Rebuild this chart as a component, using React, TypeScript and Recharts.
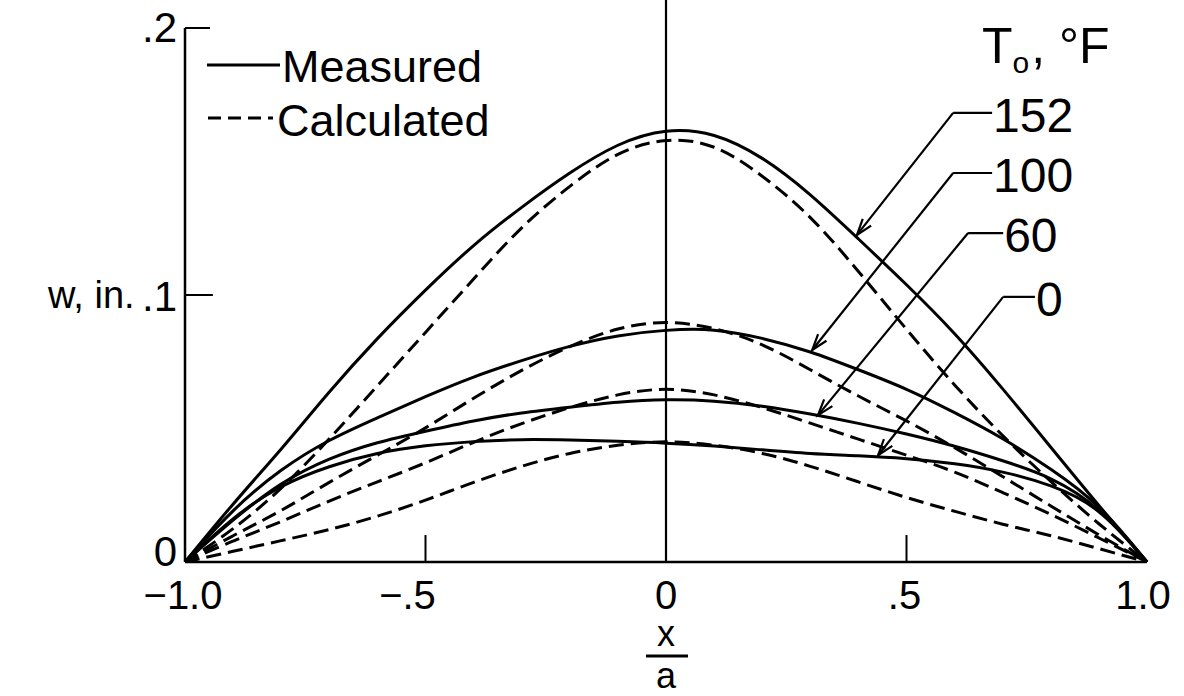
import React from 'react';
import { LineChart, Line, XAxis, YAxis, ReferenceLine } from 'recharts';

const FONT = "'Liberation Sans', Arial, sans-serif";
const INK = '#000';

// stations along the plate, x/a
const xOverA = [-1, -0.9, -0.8, -0.7, -0.6, -0.5, -0.4, -0.3, -0.2, -0.1, 0, 0.1, 0.2, 0.3, 0.4, 0.5, 0.6, 0.7, 0.8, 0.9, 1];

// deflection w, in. (solid curves)
const measured152 = [0, 0.022, 0.042, 0.064, 0.084, 0.102, 0.119, 0.133, 0.146, 0.157, 0.1625, 0.161, 0.152, 0.138, 0.121, 0.104, 0.086, 0.065, 0.043, 0.021, 0];
const measured100 = [0, 0.02, 0.035, 0.046, 0.054, 0.062, 0.0695, 0.0755, 0.081, 0.085, 0.087, 0.0875, 0.084, 0.079, 0.072, 0.065, 0.056, 0.0465, 0.035, 0.022, 0];
const measured60 = [0, 0.016, 0.03, 0.039, 0.045, 0.049, 0.053, 0.056, 0.058, 0.06, 0.061, 0.0605, 0.0585, 0.0555, 0.052, 0.048, 0.0435, 0.038, 0.032, 0.021, 0];
const measured0 = [0, 0.017, 0.029, 0.036, 0.041, 0.0437, 0.0452, 0.046, 0.0457, 0.0452, 0.0446, 0.0435, 0.042, 0.0405, 0.0398, 0.0388, 0.037, 0.034, 0.029, 0.021, 0];

// deflection w, in. (dashed curves)
const calculated152 = [0, 0.012, 0.027, 0.046, 0.066, 0.086, 0.106, 0.126, 0.141, 0.154, 0.159, 0.157, 0.145, 0.13, 0.109, 0.087, 0.066, 0.047, 0.03, 0.014, 0];
const calculated100 = [0, 0.01, 0.019, 0.03, 0.04, 0.05, 0.0615, 0.072, 0.081, 0.088, 0.0905, 0.088, 0.082, 0.072, 0.062, 0.053, 0.043, 0.032, 0.021, 0.01, 0];
const calculated60 = [0, 0.008, 0.015, 0.023, 0.03, 0.037, 0.045, 0.052, 0.058, 0.063, 0.0655, 0.063, 0.058, 0.052, 0.046, 0.04, 0.034, 0.026, 0.018, 0.009, 0];
const calculated0 = [0, 0.004, 0.008, 0.012, 0.017, 0.023, 0.03, 0.036, 0.041, 0.044, 0.0455, 0.044, 0.041, 0.036, 0.03, 0.024, 0.019, 0.014, 0.01, 0.005, 0];

const temperatures = ['152', '100', '60', '0'];

const xTicks = [-1, -0.5, 0, 0.5, 1];
const xTickLabels = ['\u22121.0', '\u2212.5', '0', '.5', '1.0'];
const xTickShift = [-2, -18, 0, -2, -4];
const yTicks = [0, 0.1, 0.2];
const yTickLabels = ['0', '.1', '.2'];
const yTickBaseline = [4, 16, 14];

// leader lines for the T0 labels, in data units: label end, knee, arrow tip
const leaderLabelAt = [[0.678, 0.1682], [0.678, 0.1457], [0.701, 0.1232], [0.767, 0.0993]];
const leaderKnee = [[0.597, 0.1682], [0.597, 0.1457], [0.628, 0.1232], [0.701, 0.0993]];
const leaderTip = [[0.397, 0.1225], [0.304, 0.0794], [0.316, 0.055], [0.441, 0.04]];

const series = [
  { key: 'm152', values: measured152, dashed: false },
  { key: 'm100', values: measured100, dashed: false },
  { key: 'm60', values: measured60, dashed: false },
  { key: 'm0', values: measured0, dashed: false },
  { key: 'c152', values: calculated152, dashed: true },
  { key: 'c100', values: calculated100, dashed: true },
  { key: 'c60', values: calculated60, dashed: true },
  { key: 'c0', values: calculated0, dashed: true },
];

const data = xOverA.map((x, i) => {
  const row: Record<string, number> = { x };
  series.forEach((s) => {
    row[s.key] = s.values[i];
  });
  return row;
});

function XTick(props: any) {
  const { x, y, index } = props;
  return (
    <text x={x + xTickShift[index]} y={y + 47} textAnchor="middle" fontSize={40} fontFamily={FONT} fill={INK}>
      {xTickLabels[index]}
    </text>
  );
}

function YTick(props: any) {
  const { x, y, index } = props;
  return (
    <text x={x - 8} y={y + yTickBaseline[index]} textAnchor="end" fontSize={42} fontFamily={FONT} fill={INK}>
      {yTickLabels[index]}
    </text>
  );
}

function ArrowLeader(props: any) {
  const { x1, y1, x2, y2 } = props;
  const back = Math.atan2(y1 - y2, x1 - x2);
  const len = 17;
  const spread = 0.32;
  const ax = x2 + len * Math.cos(back + spread);
  const ay = y2 + len * Math.sin(back + spread);
  const bx = x2 + len * Math.cos(back - spread);
  const by = y2 + len * Math.sin(back - spread);
  return (
    <g>
      <line x1={x1} y1={y1} x2={x2} y2={y2} stroke={INK} strokeWidth={2.2} />
      <polyline points={`${ax},${ay} ${x2},${y2} ${bx},${by}`} fill="none" stroke={INK} strokeWidth={2.2} />
    </g>
  );
}

const labelLeader = (text: string) => (props: any) => (
  <g>
    <line x1={props.x1} y1={props.y1} x2={props.x2} y2={props.y2} stroke={INK} strokeWidth={2.2} />
    <text x={props.x2 + 1} y={props.y2 + 19} fontSize={48} fontFamily={FONT} fill={INK}>
      {text}
    </text>
  </g>
);

export default function App() {
  return (
    <div style={{ position: 'absolute', left: 0, top: 0, background: '#fff' }}>
      <LineChart width={1184} height={696} data={data} margin={{ top: 28, right: 37, left: 0, bottom: 0 }}>
        <XAxis
          type="number"
          dataKey="x"
          domain={[-1, 1]}
          ticks={xTicks}
          interval={0}
          height={134}
          tickLine={false}
          tickSize={0}
          tickMargin={0}
          axisLine={{ stroke: INK, strokeWidth: 2.5 }}
          tick={(p: any) => <XTick {...p} />}
        />
        <YAxis
          type="number"
          domain={[0, 0.2]}
          ticks={yTicks}
          interval={0}
          width={185}
          tickLine={false}
          tickSize={0}
          tickMargin={0}
          allowDataOverflow
          axisLine={{ stroke: INK, strokeWidth: 2.5 }}
          tick={(p: any) => <YTick {...p} />}
        />

        {/* zero line runs up past the top of the frame */}
        <ReferenceLine segment={[{ x: 0, y: 0 }, { x: 0, y: 0.2105 }]} ifOverflow="visible" stroke={INK} strokeWidth={2.2} />
        {/* inward tick marks */}
        <ReferenceLine segment={[{ x: -1, y: 0.1 }, { x: -0.942, y: 0.1 }]} stroke={INK} strokeWidth={2} />
        <ReferenceLine segment={[{ x: -1, y: 0.2 }, { x: -0.948, y: 0.2 }]} stroke={INK} strokeWidth={2} />
        <ReferenceLine segment={[{ x: -0.5, y: 0 }, { x: -0.5, y: 0.0101 }]} stroke={INK} strokeWidth={2} />
        <ReferenceLine segment={[{ x: 0.5, y: 0 }, { x: 0.5, y: 0.0101 }]} stroke={INK} strokeWidth={2} />

        {series.map((s) => (
          <Line
            key={s.key}
            dataKey={s.key}
            type="basis"
            stroke={INK}
            strokeWidth={3}
            strokeDasharray={s.dashed ? '15 7' : undefined}
            dot={false}
            activeDot={false}
            isAnimationActive={false}
          />
        ))}

        {temperatures.map((t, i) => (
          <ReferenceLine
            key={`lab-${t}`}
            segment={[{ x: leaderKnee[i][0], y: leaderKnee[i][1] }, { x: leaderLabelAt[i][0], y: leaderLabelAt[i][1] }]}
            shape={labelLeader(t)}
          />
        ))}
        {temperatures.map((t, i) => (
          <ReferenceLine
            key={`arr-${t}`}
            segment={[{ x: leaderKnee[i][0], y: leaderKnee[i][1] }, { x: leaderTip[i][0], y: leaderTip[i][1] }]}
            shape={ArrowLeader}
          />
        ))}

        {/* legend */}
        <g fontFamily={FONT} fill={INK}>
          <line x1={207} y1={65} x2={280} y2={65} stroke={INK} strokeWidth={3} />
          <text x={282} y={82} fontSize={45}>Measured</text>
          <line x1={208} y1={118} x2={273} y2={118} stroke={INK} strokeWidth={3} strokeDasharray="13 7" />
          <text x={277} y={136} fontSize={45}>Calculated</text>
        </g>

        {/* T0 heading */}
        <text x={982} y={63} fontSize={50} fontFamily={FONT} fill={INK}>
          T<tspan fontSize={30} dy={10}>o</tspan>
          <tspan dy={-10} dx={2}>, °F</tspan>
        </text>

        {/* axis titles */}
        <text x={48} y={308} fontSize={38} fontFamily={FONT} fill={INK}>w, in.</text>
        <text x={666} y={646} textAnchor="middle" fontSize={36} fontFamily={FONT} fill={INK}>x</text>
        <line x1={646} y1={656} x2={688} y2={656} stroke={INK} strokeWidth={3} />
        <text x={666} y={688} textAnchor="middle" fontSize={36} fontFamily={FONT} fill={INK}>a</text>
      </LineChart>
    </div>
  );
}
